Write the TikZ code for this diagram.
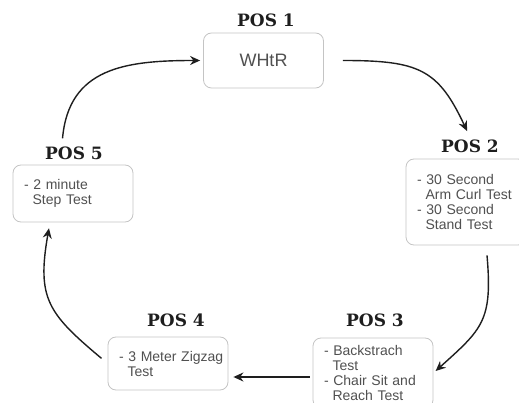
\documentclass[tikz,border=0pt]{standalone}
\usepackage{fontspec}
\setmainfont{Liberation Sans}
\newfontfamily\poslabelfont{DejaVu Serif}
\usepackage{tikz}
\usetikzlibrary{
    positioning,
    arrows.meta,
}
\definecolor{boxline}{HTML}{C4C4C4}
\definecolor{boxtext}{HTML}{505050}
\definecolor{darkline}{HTML}{1E1E1E}
\tikzset{
    % Label and box styles
    poslabel/.style={font=\poslabelfont\bfseries\fontsize{17}{17}\selectfont, text=darkline, inner sep=2pt},
    station/.style={rectangle, draw=boxline, line width=0.8pt, rounded corners=8pt,
                    minimum width=120pt, text width=98pt, inner xsep=11pt, align=left,
                    text=boxtext, font=\fontsize{14}{15}\selectfont},
    % Arrow styles
    flow/.style={-{Stealth[length=10pt, width=9pt]}, line width=1.4pt, darkline},
}
\newcommand{\hang}{\hspace*{0.61em}}

\begin{document}
\begin{tikzpicture}[x=1pt, y=1pt]
    \useasboundingbox (0,0) rectangle (519,-403);

    % Labels
    \foreach \n/\x/\y in {1/266/-20, 2/470/-146, 3/375/-320, 4/176/-320, 5/74/-153} {
        \node[poslabel] (lab\n) at (\x, \y) {POS \n};
    }

    % Stations
    \node[station, align=center, font=\fontsize{18}{20}\selectfont, minimum height=55pt] (box1) at (263.5, -60.5) {WHtR};
    \node[station, minimum height=86pt] (box2) at (466, -202) {\mbox{- 30 Second}\\ \mbox{\hang Arm Curl Test}\\ \mbox{- 30 Second}\\ \mbox{\hang Stand Test}};
    \node[station, minimum height=70pt] (box3) at (373, -373) {\mbox{- Backstrach}\\ \mbox{\hang Test}\\ \mbox{- Chair Sit and}\\ \mbox{\hang Reach Test}};
    \node[station, minimum height=53pt] (box4) at (168, -363.5) {\mbox{- 3 Meter Zigzag}\\ \mbox{\hang Test}};
    \node[station, minimum height=57pt] (box5) at (73, -193.5) {\mbox{- 2 minute}\\ \mbox{\hang Step Test}};

    % Arrows
    \coordinate (a12s) at ([xshift=19pt]box1.east);
    \coordinate (a23s) at ([xshift=21pt, yshift=-10pt]box2.south);
    \coordinate (a34s) at ([yshift=-4pt]box3.west);
    \draw[flow, shorten <=6pt, shorten >=3pt] ([xshift=-12pt]lab5.north) to[out=85, in=180, looseness=1.2] (box1.west);
    \draw[flow, shorten >=7pt] (a12s) to[out=0, in=115, looseness=1.3] (lab2.north);
    \draw[flow, shorten >=3pt] (a23s) to[out=-85, in=42, looseness=1.3] (box3.east);
    \draw[flow, shorten <=3pt, shorten >=5pt] (a34s) -- (a34s -| box4.east);
    \draw[flow, shorten <=8pt, shorten >=6pt] (box4.west) to[out=140, in=-100, looseness=1.3] ([xshift=-23pt]box5.south);
\end{tikzpicture}
\end{document}
